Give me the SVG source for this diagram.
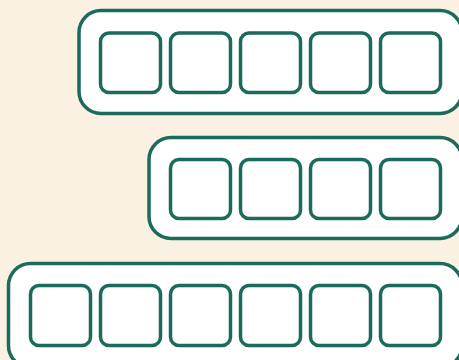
<svg xmlns="http://www.w3.org/2000/svg" width="459" height="360" viewBox="0 0 459 360">
<style>
.bg{fill:#faf1e3}
.box{fill:#ffffff;stroke:#1b6b5c;stroke-width:3.5}
.cell{fill:#ffffff;stroke:#1b6b5c;stroke-width:3.5}
</style>
<rect class="bg" x="0" y="0" width="459" height="360"/>
<g id="row1">
<rect class="box" x="79" y="10.5" width="383" height="103" rx="22"/>
<rect class="cell" x="100.5" y="33" width="60" height="59.5" rx="8.5"/>
<rect class="cell" x="170.5" y="33" width="60" height="59.5" rx="8.5"/>
<rect class="cell" x="240.5" y="33" width="60" height="59.5" rx="8.5"/>
<rect class="cell" x="310.5" y="33" width="60" height="59.5" rx="8.5"/>
<rect class="cell" x="380.5" y="33" width="60" height="59.5" rx="8.5"/>
</g>
<g id="row2">
<rect class="box" x="149" y="137.5" width="313" height="101" rx="22"/>
<rect class="cell" x="170.5" y="159.5" width="60" height="59" rx="8.5"/>
<rect class="cell" x="240.5" y="159.5" width="60" height="59" rx="8.5"/>
<rect class="cell" x="310.5" y="159.5" width="60" height="59" rx="8.5"/>
<rect class="cell" x="380.5" y="159.5" width="60" height="59" rx="8.5"/>
</g>
<g id="row3">
<rect class="box" x="8.5" y="263.5" width="453.5" height="104" rx="22"/>
<rect class="cell" x="30.5" y="285.5" width="60" height="60" rx="8.5"/>
<rect class="cell" x="100.5" y="285.5" width="60" height="60" rx="8.5"/>
<rect class="cell" x="170.5" y="285.5" width="60" height="60" rx="8.5"/>
<rect class="cell" x="240.5" y="285.5" width="60" height="60" rx="8.5"/>
<rect class="cell" x="310.5" y="285.5" width="60" height="60" rx="8.5"/>
<rect class="cell" x="380.5" y="285.5" width="60" height="60" rx="8.5"/>
</g>
<g id="connectors"/>
</svg>
